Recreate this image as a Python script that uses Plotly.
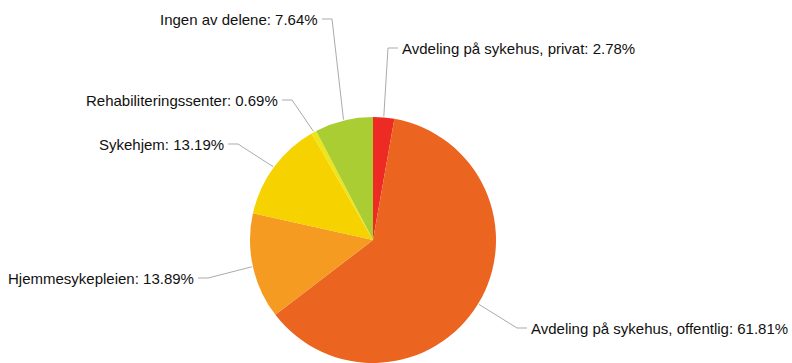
import math
import plotly.graph_objects as go

# Slice data, clockwise from 12 o'clock
labels = [
    "Avdeling på sykehus, privat",
    "Avdeling på sykehus, offentlig",
    "Hjemmesykepleien",
    "Sykehjem",
    "Rehabiliteringssenter",
    "Ingen av delene",
]
values = [2.78, 61.81, 13.89, 13.19, 0.69, 7.64]
colors = ["#ED2A24", "#EB6420", "#F59B22", "#F5D200", "#EDE51A", "#ABCD34"]

# Label placement (pixel coords): elbow point of the leader line and side of text
elbows = [(388, 48), (517, 328), (208, 278), (238, 144), (292, 100), (332, 19)]
sides = ["right", "right", "left", "left", "left", "left"]

W, H = 792, 363
CX, CY, R = 373, 240, 123

fig = go.Figure()
fig.add_trace(go.Pie(
    labels=labels,
    values=values,
    sort=False,
    direction="clockwise",
    rotation=0,
    textinfo="none",
    hoverinfo="label+percent",
    marker=dict(colors=colors, line=dict(width=0)),
    domain=dict(x=[(CX - R) / W, (CX + R) / W], y=[(H - CY - R) / H, (H - CY + R) / H]),
    showlegend=False,
))

total = sum(values)
cum = 0.0
shapes = []
annotations = []
for lab, v, (ex, ey), side in zip(labels, values, elbows, sides):
    mid = (cum + v / 2) / total * 2 * math.pi
    cum += v
    px = CX + (R + 1) * math.sin(mid)
    py = CY - (R + 1) * math.cos(mid)
    tx = ex + 10 if side == "right" else ex - 10
    path = f"M {px:.1f},{py:.1f} L {ex},{ey} L {tx},{ey}"
    shapes.append(dict(type="path", path=path, xref="x", yref="y",
                       line=dict(color="#ababab", width=1)))
    annotations.append(dict(
        x=tx + (2 if side == "right" else -2), y=ey, xref="x", yref="y",
        text=f"{lab}: {v:.2f}%", showarrow=False,
        xanchor="left" if side == "right" else "right", yanchor="middle",
        font=dict(family="Liberation Sans, Arial, sans-serif", size=15, color="#111111"),
    ))

fig.update_layout(
    width=W, height=H,
    margin=dict(l=0, r=0, t=0, b=0),
    paper_bgcolor="white", plot_bgcolor="rgba(0,0,0,0)",
    xaxis=dict(range=[0, W], visible=False, domain=[0, 1], fixedrange=True),
    yaxis=dict(range=[H, 0], visible=False, domain=[0, 1], fixedrange=True),
    shapes=shapes,
    annotations=annotations,
)

fig.write_html("out.html")
